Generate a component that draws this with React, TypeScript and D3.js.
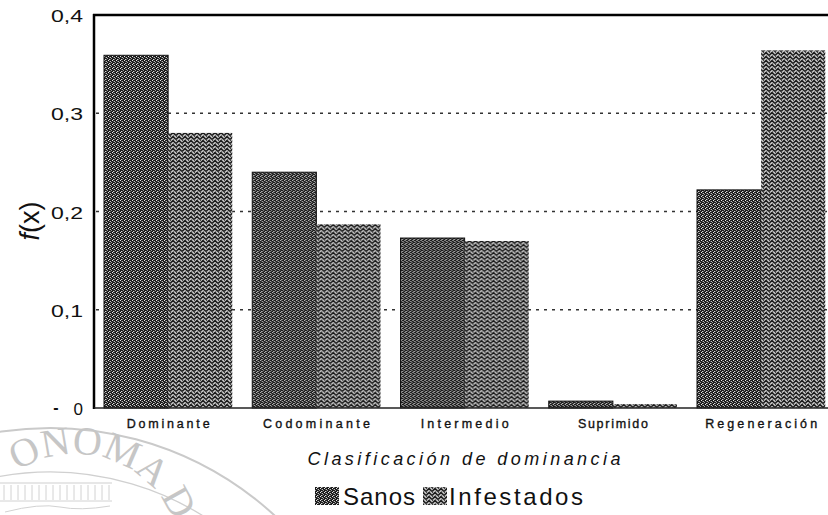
import React from "react";
import * as d3 from "d3";

const categories = ["Dominante", "Codominante", "Intermedio", "Suprimido", "Regeneración"];
const seriesNames = ["Sanos", "Infestados"];
const sanos = [0.359, 0.240, 0.173, 0.007, 0.222];
const infestados = [0.280, 0.187, 0.170, 0.004, 0.364];
const yTicks = [0, 0.1, 0.2, 0.3, 0.4];
const yTickLabels = ["0", "0,1", "0,2", "0,3", "0,4"];
const gridValues = [0.1, 0.2, 0.3];
const xTitle = "Clasificación de dominancia";
const tickLabelWidths = [83, 107, 88, 70, 112];

const W = 828;
const H = 515;
const left = 94;
const top = 15;
const bottom = 408;
const step = 148.25;

function arcPath(r: number, fromDeg: number, toDeg: number) {
  const a0 = ((fromDeg - 90) * Math.PI) / 180;
  const a1 = ((toDeg - 90) * Math.PI) / 180;
  const p = d3.path();
  p.moveTo(r * Math.cos(a0), r * Math.sin(a0));
  p.arc(0, 0, r, a0, a1);
  return p.toString();
}

export default function App() {
  const x = d3
    .scaleBand<string>()
    .domain(categories)
    .range([left, left + step * categories.length])
    .paddingInner(20 / step)
    .paddingOuter(10 / step);
  const x1 = d3.scaleBand<string>().domain(seriesNames).range([0, x.bandwidth()]);
  const y = d3.scaleLinear().domain([0, 0.4]).range([bottom, top]);
  const values: Record<string, number[]> = { Sanos: sanos, Infestados: infestados };
  const fills: Record<string, string> = { Sanos: "url(#patSanos)", Infestados: "url(#patInf)" };

  const font = "'Liberation Sans', Arial, sans-serif";
  const serif = "'Liberation Serif', 'DejaVu Serif', serif";

  // watermark geometry
  const letterArc = arcPath(106, -33, 120);
  const outerArc = arcPath(332, -30, 60);
  const innerArc = arcPath(288, -12, 45);
  const columnXs = d3.range(4, 110, 7);

  return (
    <svg width={W} height={H} style={{ display: "block", position: "absolute", left: 0, top: 0, background: "#fff" }}>
      <defs>
        <pattern id="patSanos" patternUnits="userSpaceOnUse" width={4} height={4}>
          <rect width={4} height={4} fill="#1c1c1c" />
          <rect x={0} y={0} width={1} height={1} fill="#e8e8e8" />
          <rect x={2} y={1} width={1} height={1} fill="#c0c0c0" />
          <rect x={1} y={3} width={1} height={1} fill="#d8d8d8" />
          <rect x={3} y={2} width={1} height={1} fill="#a0a0a0" />
          <rect x={2} y={3} width={1} height={1} fill="#666" />
          <rect x={1} y={1} width={1} height={1} fill="#555" />
        </pattern>
        <pattern id="patInf" patternUnits="userSpaceOnUse" width={6} height={4}>
          <rect width={6} height={4} fill="#c4c4c4" />
          <path d="M0,3.5 L3,0.5 L6,3.5" stroke="#1a1a1a" strokeWidth={1.5} fill="none" />
          <rect x={0} y={0} width={1} height={1} fill="#444" />
          <rect x={3} y={3} width={1} height={1} fill="#777" />
        </pattern>
      </defs>

      {/* watermark */}
      <g>
        <g transform="translate(50,760)">
          <path d={outerArc} fill="none" stroke="#cacaca" strokeWidth={2} />
          <path d={innerArc} fill="none" stroke="#d0d0d0" strokeWidth={1.3} />
        </g>
        <g transform="translate(75,560)">
          <path id="wmArc" d={letterArc} fill="none" stroke="none" />
          <text fontFamily={serif} fontSize={40} fill="#c6c6c6">
            <textPath href="#wmArc">ONOMA D</textPath>
          </text>
        </g>
        <line x1={0} x2={112} y1={483} y2={483} stroke="#cfcfcf" strokeWidth={1.2} />
        {columnXs.map((cx) => (
          <line key={cx} x1={cx} x2={cx} y1={485} y2={500} stroke="#d2d2d2" strokeWidth={1} />
        ))}
        <line x1={0} x2={112} y1={501} y2={501} stroke="#d2d2d2" strokeWidth={1} />
        <path d="M5,512 Q40,503 60,507 T110,506" fill="none" stroke="#d2d2d2" strokeWidth={1} />
      </g>

      {/* gridlines */}
      {gridValues.map((v) => (
        <line key={v} x1={left + 2} x2={W} y1={y(v)} y2={y(v)} stroke="#333" strokeWidth={1.3} strokeDasharray="3,5" />
      ))}

      {/* bars */}
      {categories.map((c, i) => (
        <g key={c} transform={`translate(${x(c)},0)`}>
          {seriesNames.map((s) => {
            const v = values[s][i];
            return (
              <rect
                key={s}
                x={x1(s)}
                y={y(v)}
                width={x1.bandwidth()}
                height={bottom - y(v)}
                fill={fills[s]}
                stroke={s === "Sanos" ? "#111" : "none"}
                strokeWidth={s === "Sanos" ? 1 : 0}
              />
            );
          })}
        </g>
      ))}

      {/* frame */}
      <line x1={left} x2={left} y1={top - 1} y2={bottom + 1} stroke="#000" strokeWidth={2.5} />
      <line x1={left - 1} x2={W} y1={top} y2={top} stroke="#000" strokeWidth={2.5} />
      <line x1={left} x2={W} y1={bottom} y2={bottom} stroke="#222" strokeWidth={1.5} />

      {/* y tick labels */}
      {yTicks.map((t, i) => (
        <text
          key={t}
          x={83}
          y={y(t) + 7}
          textAnchor="end"
          fontFamily={font}
          fontSize={17}
          fill="#111"
          textLength={yTickLabels[i].length > 1 ? 32 : undefined}
          lengthAdjust="spacingAndGlyphs"
        >
          {yTickLabels[i]}
        </text>
      ))}
      <text x={56} y={y(0) + 5} fontFamily={font} fontSize={16} fontWeight="bold" fill="#111" textAnchor="middle">-</text>

      {/* y label */}
      <text transform="translate(39,221) rotate(-90)" textAnchor="middle" fontFamily={font} fontSize={27} fill="#111">
        <tspan fontStyle="italic">f</tspan>
        <tspan>(x)</tspan>
      </text>

      {/* x tick labels */}
      {categories.map((c, i) => (
        <text
          key={c}
          x={(x(c) as number) + x.bandwidth() / 2}
          y={428}
          textAnchor="middle"
          fontFamily={font}
          fontSize={12.5}
          fill="#111"
          stroke="#111"
          strokeWidth={0.35}
          textLength={tickLabelWidths[i]}
          lengthAdjust="spacing"
        >
          {c}
        </text>
      ))}

      {/* x title */}
      <text
        x={464}
        y={465}
        textAnchor="middle"
        fontFamily={font}
        fontStyle="italic"
        fontSize={18}
        fill="#111"
        textLength={313}
        lengthAdjust="spacing"
      >
        {xTitle}
      </text>

      {/* legend */}
      <rect x={315} y={487} width={24} height={18} fill="url(#patSanos)" />
      <text x={343} y={505} fontFamily={font} fontSize={24} fill="#111" textLength={72} lengthAdjust="spacing">
        {seriesNames[0]}
      </text>
      <rect x={423} y={487} width={24} height={18} fill="url(#patInf)" />
      <text x={449} y={505} fontFamily={font} fontSize={24} fill="#111" textLength={134} lengthAdjust="spacing">
        {seriesNames[1]}
      </text>
    </svg>
  );
}
